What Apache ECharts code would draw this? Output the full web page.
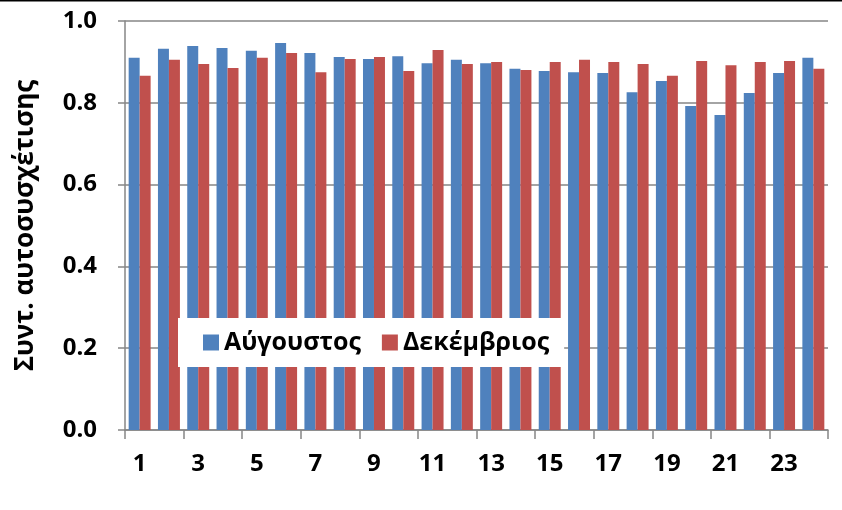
<!DOCTYPE html>
<html>
<head>
    <meta charset="utf-8">
    <title>Συντ. αυτοσυσχέτισης</title>
    <script src="https://cdn.jsdelivr.net/npm/echarts@6/dist/echarts.min.js"></script>
    <style>
        html, body { margin: 0; padding: 0; background: #fff; }
    </style>
</head>
<body>
    <div id="main" style="width:842px;height:510px;"></div>
    <script type="text/javascript">
        // ώρες 1..24
        var hours = [];
        for (var h = 1; h <= 24; h++) hours.push(String(h));

        var august = [0.910, 0.932, 0.939, 0.934, 0.927, 0.946, 0.922, 0.912, 0.907, 0.914, 0.897, 0.905,
                      0.897, 0.883, 0.878, 0.875, 0.873, 0.826, 0.853, 0.792, 0.770, 0.824, 0.873, 0.910];
        var december = [0.866, 0.905, 0.895, 0.885, 0.910, 0.922, 0.875, 0.907, 0.912, 0.878, 0.929, 0.895,
                        0.900, 0.880, 0.900, 0.905, 0.900, 0.895, 0.866, 0.902, 0.892, 0.900, 0.902, 0.883];

        var font = '"Open Sans", "Noto Sans", sans-serif';
        var axisGray = '#868686';

        var myChart = echarts.init(document.getElementById('main'));
        var option = {
            animation: false,
            color: ['#4F81BD', '#C0504D'],
            grid: { left: 125, right: 14, top: 21, bottom: 80 },
            // λεπτή μαύρη γραμμή στο πάνω άκρο της εικόνας
            graphic: [{
                type: 'rect', left: 0, top: 0,
                shape: { width: 842, height: 1.5 },
                style: { fill: '#000' }
            }],
            legend: {
                left: 178, top: 318,
                backgroundColor: '#fff',
                padding: [12, 15, 12, 25],
                itemWidth: 16, itemHeight: 16, itemGap: 21,
                icon: 'rect',
                textStyle: { fontFamily: font, fontSize: 25, fontWeight: 'bold', color: '#000' },
                data: ['Αύγουστος', 'Δεκέμβριος']
            },
            xAxis: {
                type: 'category',
                data: hours,
                axisLine: { lineStyle: { color: axisGray, width: 1.5 } },
                axisTick: { show: true, length: 9, lineStyle: { color: axisGray, width: 1.5 } },
                axisLabel: {
                    interval: 1, margin: 22,
                    fontFamily: font, fontSize: 24, fontWeight: 'bold', color: '#000'
                }
            },
            yAxis: {
                type: 'value',
                min: 0, max: 1, interval: 0.2,
                name: 'Συντ. αυτοσυσχέτισης',
                nameLocation: 'middle',
                nameGap: 86,
                nameTextStyle: { fontFamily: font, fontSize: 26, fontWeight: 'bold', color: '#000' },
                axisLine: { show: true, lineStyle: { color: axisGray, width: 1.5 } },
                axisTick: { show: true, length: 7, lineStyle: { color: axisGray, width: 1.5 } },
                axisLabel: {
                    margin: 28,
                    formatter: function (v) { return v.toFixed(1); },
                    fontFamily: font, fontSize: 24, fontWeight: 'bold', color: '#000'
                },
                splitLine: { show: true, lineStyle: { color: axisGray, width: 1.5 } }
            },
            series: [
                { name: 'Αύγουστος', type: 'bar', barGap: 0, barCategoryGap: '25%', data: august },
                { name: 'Δεκέμβριος', type: 'bar', data: december }
            ]
        };
        myChart.setOption(option);
    </script>
</body>
</html>
